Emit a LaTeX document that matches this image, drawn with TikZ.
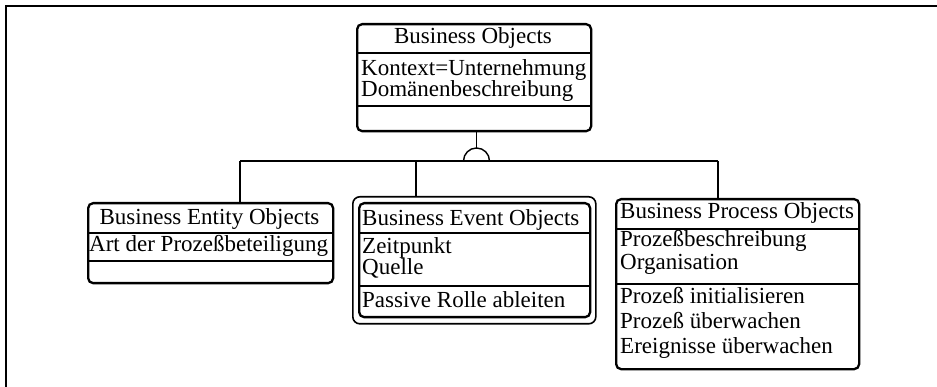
\documentclass[tikz,border=0pt]{standalone}
\usepackage{fontspec}
\setmainfont{Liberation Serif}
\begin{document}
\begin{tikzpicture}[x=1pt,y=-1pt,
  classbox/.style={draw, line width=2.3pt, rounded corners=5pt, anchor=north west, inner sep=0pt},
  divider/.style={line width=1.1pt},
  conn/.style={line width=1.4pt},
  frame/.style={line width=1.8pt},
  lbl/.style={anchor=base west, inner sep=0pt, font=\fontsize{23}{23}\selectfont},
  hdr/.style={anchor=base, inner sep=0pt, font=\fontsize{23}{23}\selectfont}]
\useasboundingbox (0,0) rectangle (937,387);
% frame (top and left edges)
\coordinate (fl) at (6,387);
\coordinate (fc) at (6,6);
\coordinate (fr) at (937,6);
\draw[frame] (fl) -- (fc) -- (fr);

% Business Objects
\node[classbox, minimum width=234pt, minimum height=107pt] (bo) at (356,23) {};
\draw[divider] (356,53) -- (590,53);
\draw[divider] (356,106) -- (590,106);
\node[hdr] (boh) at (473,44) {Business Objects};
\node[lbl] (boa1) at (361,76) {Kontext=Unternehmung};
\node[lbl] (boa2) at (361,97) {Domänenbeschreibung};

% Business Entity Objects
\node[classbox, minimum width=245pt, minimum height=80pt] (be) at (87,202) {};
\draw[divider] (87,233) -- (332,233);
\draw[divider] (87,261) -- (332,261);
\node[hdr] (beh) at (209.5,225) {Business Entity Objects};
\node[lbl] (bea1) at (89,252) {Art der Prozeßbeteiligung};

% Business Event Objects (double border)
\node[classbox, minimum width=243pt, minimum height=127pt, rounded corners=7pt, line width=1.6pt] (bvo) at (352,196) {};
\node[classbox, minimum width=231pt, minimum height=114pt] (bv) at (358,202) {};
\draw[divider] (358,233) -- (589,233);
\draw[divider] (358,286) -- (589,286);
\node[lbl] (bvh) at (362,226) {Business Event Objects};
\node[lbl] (bva1) at (362,254) {Zeitpunkt};
\node[lbl] (bva2) at (362,275) {Quelle};
\node[lbl] (bvo1) at (362,308) {Passive Rolle ableiten};

% Business Process Objects
\node[classbox, minimum width=243pt, minimum height=170pt] (bp) at (615,198) {};
\draw[divider] (615,229) -- (858,229);
\draw[divider] (615,284) -- (858,284);
\node[lbl] (bph) at (620,219) {Business Process Objects};
\node[lbl] (bpa1) at (620,247) {Prozeßbeschreibung};
\node[lbl] (bpa2) at (620,270) {Organisation};
\node[lbl] (bpo1) at (620,304) {Prozeß initialisieren};
\node[lbl] (bpo2) at (620,328) {Prozeß überwachen};
\node[lbl] (bpo3) at (620,353) {Ereignisse überwachen};

% inheritance connector
\coordinate (inh) at (476.5,148);
\coordinate (hl) at (240,161);
\coordinate (hm) at (416,161);
\coordinate (hr) at (718,161);
\draw[conn] (bo.south -| inh) -- (inh);
\draw[conn] (463.5,161) arc[start angle=180, end angle=360, radius=13];
\draw[conn] (hl) -- (hr);
\draw[conn] (hl) -- (hl |- be.north);
\draw[conn] (hm) -- (hm |- bvo.north);
\draw[conn] (hr) -- (hr |- bp.north);
\end{tikzpicture}
\end{document}
